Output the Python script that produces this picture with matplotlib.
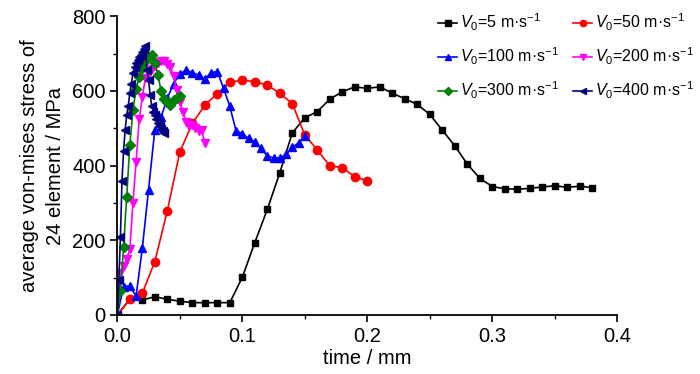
import numpy as np
import matplotlib
matplotlib.use("Agg")
import matplotlib.pyplot as plt
from matplotlib.ticker import MultipleLocator

plt.rcParams['font.family'] = ['Liberation Sans', 'DejaVu Sans']
plt.rcParams['mathtext.fontset'] = 'custom'
plt.rcParams['mathtext.rm'] = 'Liberation Sans'
plt.rcParams['mathtext.it'] = 'Liberation Sans:italic'

# V0 = 5 m/s
x_5 = [0.00, 0.01, 0.02, 0.03, 0.04, 0.05, 0.06, 0.07, 0.08, 0.09, 0.10, 0.11, 0.12,
       0.13, 0.14, 0.15, 0.16, 0.17, 0.18, 0.19, 0.20, 0.21, 0.22, 0.23, 0.24, 0.25,
       0.26, 0.27, 0.28, 0.29, 0.30, 0.31, 0.32, 0.33, 0.34, 0.35, 0.36, 0.37, 0.38]
y_5 = [0, 42, 40, 49, 42, 37, 33, 33, 33, 33, 101, 194, 283, 381, 488, 528, 545, 578,
       598, 611, 607, 611, 594, 579, 564, 537, 495, 453, 404, 366, 344, 338, 337, 339,
       343, 346, 342, 345, 341]

# V0 = 50 m/s
x_50 = [0.00, 0.01, 0.02, 0.03, 0.04, 0.05, 0.06, 0.07, 0.08, 0.09, 0.10, 0.11, 0.12,
        0.13, 0.14, 0.15, 0.16, 0.17, 0.18, 0.19, 0.20]
y_50 = [0, 42, 58, 143, 279, 437, 513, 562, 593, 623, 629, 625, 616, 594, 566, 482,
        442, 399, 395, 370, 360]

# V0 = 100 m/s
x_100 = [0.000, 0.005, 0.010, 0.015, 0.020, 0.025, 0.030, 0.035, 0.040, 0.045, 0.050,
         0.055, 0.060, 0.065, 0.070, 0.075, 0.080, 0.085, 0.090, 0.095, 0.100, 0.105,
         0.110, 0.115, 0.120, 0.125, 0.130, 0.135, 0.140, 0.145, 0.150]
y_100 = [0, 76, 78, 50, 179, 336, 496, 530, 580, 620, 645, 656, 649, 643, 632, 649,
         652, 607, 559, 493, 486, 473, 464, 446, 426, 421, 421, 430, 449, 461, 479]

# V0 = 200 m/s
x_200 = [0.0, 0.0025, 0.005, 0.0075, 0.01, 0.0125, 0.015, 0.0175, 0.02, 0.0225, 0.025,
         0.0275, 0.03, 0.0325, 0.035, 0.0375, 0.04, 0.0425, 0.045, 0.0475, 0.05, 0.0525,
         0.055, 0.0575, 0.06, 0.0625, 0.065, 0.0675, 0.07]
y_200 = [0, 113, 130, 150, 176, 300, 410, 524, 585, 634, 645, 660, 668, 676, 680, 680,
         672, 665, 640, 603, 570, 544, 518, 505, 510, 500, 492, 495, 460]

# V0 = 300 m/s
x_300 = [0.0, 0.0025, 0.005, 0.0075, 0.01, 0.0125, 0.015, 0.0175, 0.02, 0.0225, 0.025,
         0.0275, 0.03, 0.0325, 0.035, 0.0375, 0.04, 0.0425, 0.045, 0.0475, 0.05]
y_300 = [0, 65, 181, 317, 455, 549, 604, 638, 661, 680, 690, 696, 676, 643, 600, 578,
         571, 562, 576, 582, 587]

# V0 = 400 m/s
x_400 = [0.0, 0.00125, 0.0025, 0.00375, 0.005, 0.00625, 0.0075, 0.00875, 0.01, 0.01125,
         0.0125, 0.01375, 0.015, 0.01625, 0.0175, 0.01875, 0.02, 0.02125, 0.0225,
         0.02375, 0.025, 0.02625, 0.0275, 0.02875, 0.03, 0.03125, 0.0325, 0.03375,
         0.035, 0.03625, 0.0375]
y_400 = [0, 95, 210, 360, 440, 495, 536, 560, 595, 620, 647, 665, 674, 683, 690, 696,
         705, 712, 720, 656, 629, 590, 560, 545, 536, 525, 515, 505, 497, 492, 487]

fig = plt.figure(figsize=(7.0, 3.74), dpi=100)
ax = fig.add_axes([0.1676, 0.1578, 0.7143, 0.7986])

lw = 1.2
h5, = ax.plot(x_5, y_5, color='black', marker='s', ms=5, lw=lw, label=r'$V_0$=5 m·s$^{-1}$')
h50, = ax.plot(x_50, y_50, color='red', marker='o', ms=6, lw=lw, label=r'$V_0$=50 m·s$^{-1}$')
h100, = ax.plot(x_100, y_100, color='blue', marker='^', ms=6, lw=lw, label=r'$V_0$=100 m·s$^{-1}$')
h200, = ax.plot(x_200, y_200, color='magenta', marker='v', ms=6, lw=lw, label=r'$V_0$=200 m·s$^{-1}$')
h300, = ax.plot(x_300, y_300, color='green', marker='D', ms=5, lw=lw, label=r'$V_0$=300 m·s$^{-1}$')
h400, = ax.plot(x_400, y_400, color='navy', marker='<', ms=6, lw=lw, label=r'$V_0$=400 m·s$^{-1}$')

ax.set_xlim(0, 0.4)
ax.set_ylim(0, 800)
ax.xaxis.set_major_locator(MultipleLocator(0.1))
ax.xaxis.set_minor_locator(MultipleLocator(0.05))
ax.yaxis.set_major_locator(MultipleLocator(200))
ax.yaxis.set_minor_locator(MultipleLocator(100))
ax.xaxis.set_major_formatter(plt.FormatStrFormatter('%.1f'))
for s in ['top', 'right']:
    ax.spines[s].set_visible(False)
for s in ['left', 'bottom']:
    ax.spines[s].set_linewidth(1.3)
ax.tick_params(which='major', direction='out', length=5, width=1.2, labelsize=14.5)
ax.tick_params(which='minor', direction='out', length=3, width=1.0)

ax.set_xlabel('time / mm', fontsize=14.5, labelpad=2)
ax.set_ylabel('average von-mises stress of\n24 element / MPa', fontsize=14.5,
              multialignment='center', linespacing=1.45, labelpad=5)

# row-major order: 5, 50 / 100, 200 / 300, 400
handles = [h5, h100, h300, h50, h200, h400]
ax.legend(handles=handles, labels=[h.get_label() for h in handles], ncol=2,
          loc='upper left', bbox_to_anchor=(0.615, 0.99), bbox_transform=fig.transFigure,
          frameon=False, fontsize=11.5, handlelength=1.15, handletextpad=0.2, borderpad=0,
          columnspacing=0.9, labelspacing=0.8, markerscale=0.75)

fig.savefig('out.png', dpi=100)
